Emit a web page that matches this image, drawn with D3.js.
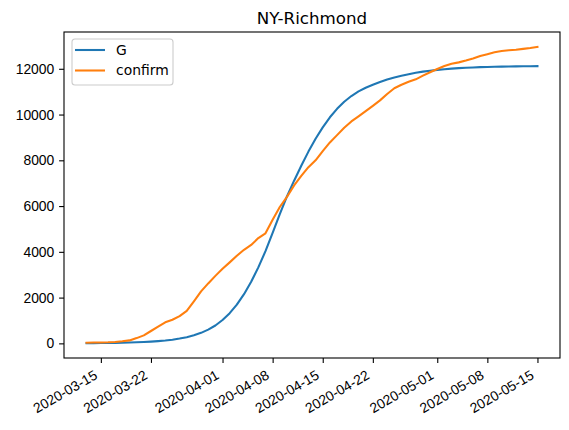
<!DOCTYPE html>
<html>
<head>
<meta charset="utf-8">
<script src="https://cdn.jsdelivr.net/npm/d3@7"></script>
<style>
  body { margin: 0; background: #fff; }
  svg { font-family: "DejaVu Sans", sans-serif; }
</style>
</head>
<body>
<svg id="chart"></svg>
<script>
// chart size
var width = 569;
var height = 430;
var margin = {top: 32, right: 9, bottom: 72, left: 64};

// data: one value per day, 2020-03-13 .. 2020-05-15
const startDate = "2020-03-13";
const gValues = [8, 10, 13, 17, 22, 28, 35, 45, 58, 75,
  97, 125, 160, 210, 270, 355, 460, 600, 780, 1020,
  1320, 1690, 2150, 2690, 3320, 4030, 4830, 5650, 6420, 7110,
  7760, 8380, 8940, 9440, 9880, 10250, 10560, 10810, 11010, 11170,
  11300, 11420, 11530, 11620, 11700, 11765, 11825, 11875, 11918, 11953,
  11983, 12008, 12028, 12045, 12059, 12071, 12081, 12089, 12096, 12102,
  12107, 12111, 12114, 12117];
const confirmValues = [30, 35, 40, 45, 60, 90, 130, 230, 350, 540,
  730, 920, 1030, 1190, 1420, 1840, 2270, 2620, 2950, 3260,
  3540, 3830, 4090, 4300, 4600, 4810, 5400, 5960, 6400, 6900,
  7320, 7700, 8000, 8400, 8780, 9100, 9420, 9700, 9920, 10150,
  10380, 10620, 10900, 11150, 11300, 11430, 11540, 11700, 11850, 11990,
  12120, 12220, 12280, 12360, 12450, 12560, 12640, 12720, 12780, 12810,
  12830, 12870, 12910, 12960];
const xTickLabels = ["2020-03-15", "2020-03-22", "2020-04-01", "2020-04-08",
  "2020-04-15", "2020-04-22", "2020-05-01", "2020-05-08", "2020-05-15"];
const yTicks = [0, 2000, 4000, 6000, 8000, 10000, 12000];
const seriesNames = ["G", "confirm"];
const colors = ["#1f77b4", "#ff7f0e"];
const title = "NY-Richmond";

var parse = d3.utcParse("%Y-%m-%d");
var t0 = parse(startDate);
var dates = gValues.map((v, i) => d3.utcDay.offset(t0, i));

var svg = d3.select('#chart')
    .attr("width", width)
    .attr("height", height);

var iw = width - margin.left - margin.right;
var ih = height - margin.top - margin.bottom;

// matplotlib style 5% margins
var xExt = d3.extent(dates);
var xPad = (xExt[1] - xExt[0]) * 0.05;
var x = d3.scaleUtc()
    .domain([new Date(+xExt[0] - xPad), new Date(+xExt[1] + xPad)])
    .range([margin.left, margin.left + iw]);

var allVals = gValues.concat(confirmValues);
var yExt = d3.extent(allVals);
var yPad = (yExt[1] - yExt[0]) * 0.05;
var y = d3.scaleLinear()
    .domain([yExt[0] - yPad, yExt[1] + yPad])
    .range([margin.top + ih, margin.top]);

// lines
var series = [gValues, confirmValues];
var line = d3.line()
    .x((d, i) => x(dates[i]))
    .y(d => y(d));
series.forEach((vals, k) => {
  svg.append("path")
     .datum(vals)
     .attr("fill", "none")
     .attr("stroke", colors[k])
     .attr("stroke-width", 2.08)
     .attr("stroke-linejoin", "round")
     .attr("stroke-linecap", "square")
     .attr("d", line);
});

// x axis
var xAxis = d3.axisBottom(x)
    .tickValues(xTickLabels.map(parse))
    .tickFormat(d3.utcFormat("%Y-%m-%d"))
    .tickSize(4.9)
    .tickSizeOuter(0);
var gx = svg.append("g")
    .attr("transform", "translate(0," + (margin.top + ih) + ")")
    .call(xAxis);
gx.select(".domain").remove();
gx.selectAll(".tick line").attr("stroke", "#000").attr("stroke-width", 1.1);
gx.selectAll(".tick text")
    .attr("font-size", "13.9px")
    .attr("fill", "#000")
    .attr("text-anchor", "end")
    .attr("y", 0)
    .attr("dy", 0)
    .attr("transform", "translate(-3,20) rotate(-30)");

// y axis
var yAxis = d3.axisLeft(y)
    .tickValues(yTicks)
    .tickFormat(d3.format("d"))
    .tickSize(4.9)
    .tickSizeOuter(0);
var gy = svg.append("g")
    .attr("transform", "translate(" + margin.left + ",0)")
    .call(yAxis);
gy.select(".domain").remove();
gy.selectAll(".tick line").attr("stroke", "#000").attr("stroke-width", 1.1);
gy.selectAll(".tick text")
    .attr("font-size", "13.9px")
    .attr("fill", "#000")
    .attr("x", -9.7);

// frame
svg.append("rect")
    .attr("x", margin.left)
    .attr("y", margin.top)
    .attr("width", iw)
    .attr("height", ih)
    .attr("fill", "none")
    .attr("stroke", "#000")
    .attr("stroke-width", 1.1);

// title
svg.append("text")
    .attr("x", margin.left + iw / 2)
    .attr("y", 24)
    .attr("text-anchor", "middle")
    .attr("font-size", "16.7px")
    .attr("fill", "#000")
    .text(title);

// legend
var lg = svg.append("g").attr("transform", "translate(72,39)");
lg.append("rect")
    .attr("width", 101)
    .attr("height", 46)
    .attr("rx", 3)
    .attr("fill", "#fff")
    .attr("fill-opacity", 0.8)
    .attr("stroke", "#ccc")
    .attr("stroke-width", 1.1);
seriesNames.forEach((name, k) => {
  var yy = 11 + k * 20.5;
  lg.append("line")
    .attr("x1", 3).attr("x2", 33)
    .attr("y1", yy).attr("y2", yy)
    .attr("stroke", colors[k])
    .attr("stroke-width", 2.08);
  lg.append("text")
    .attr("x", 44)
    .attr("y", yy)
    .attr("dy", "0.35em")
    .attr("font-size", "13.9px")
    .attr("fill", "#000")
    .text(name);
});
</script>
</body>
</html>
